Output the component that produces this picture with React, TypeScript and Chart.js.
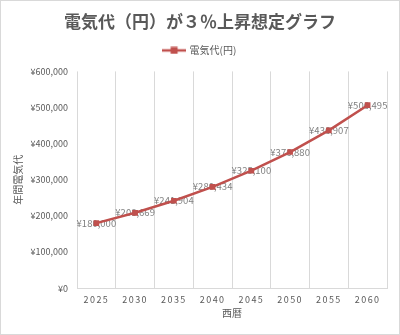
import React, { useEffect, useRef } from "react";
import { Chart, registerables } from "chart.js";

Chart.register(...registerables);

const years = ["2025", "2030", "2035", "2040", "2045", "2050", "2055", "2060"];
const costs = [180000, 208669, 241904, 280434, 325100, 376880, 436907, 506495];
const yMin = 0;
const yMax = 600000;
const yStep = 100000;
const seriesName = "電気代(円)";
const titleText = "電気代（円）が３％上昇想定グラフ";
const yTitle = "年間電気代";
const xTitle = "西暦";

const RED = "#c0504d";
const GRID = "#d9d9d9";
const TEXT = "#595959";
const LABEL = "#7f7f7f";
const FONT = '"Noto Sans CJK JP", "Noto Sans", sans-serif';

const yen = (v: number) => "¥" + Math.round(v).toLocaleString("en-US");

const valueLabels = {
  id: "valueLabels",
  beforeDatasetsDraw(chart: any) {
    const ctx = chart.ctx;
    const meta = chart.getDatasetMeta(0);
    ctx.save();
    ctx.font = `9.5px ${FONT}`;
    ctx.fillStyle = LABEL;
    ctx.textAlign = "center";
    ctx.textBaseline = "middle";
    meta.data.forEach((pt: any, i: number) => {
      ctx.fillText(yen(costs[i]), pt.x, pt.y);
    });
    ctx.restore();
  },
};

const xSpacing = {
  id: "xSpacing",
  afterUpdate(chart: any) {
    const sc = chart.scales.x;
    if (sc && !sc.__patched) {
      const orig = sc.drawLabels.bind(sc);
      sc.drawLabels = (area: any) => {
        const ctx = chart.ctx;
        const prev = ctx.letterSpacing;
        ctx.letterSpacing = "1.5px";
        orig(area);
        ctx.letterSpacing = prev;
      };
      sc.__patched = true;
    }
  },
};

const legendGap = {
  id: "legendGap",
  beforeUpdate(chart: any) {
    const lg = chart.legend;
    if (lg && !lg.__patched) {
      const orig = lg.fit.bind(lg);
      lg.fit = function () {
        orig();
        lg.height += 6;
      };
      lg.__patched = true;
    }
  },
};

function legendIcon(): HTMLCanvasElement {
  const c = document.createElement("canvas");
  c.width = 24;
  c.height = 8;
  const g = c.getContext("2d")!;
  g.strokeStyle = RED;
  g.lineWidth = 2.5;
  g.beginPath();
  g.moveTo(0, 4);
  g.lineTo(24, 4);
  g.stroke();
  g.fillStyle = RED;
  g.fillRect(8.5, 0.5, 7, 7);
  return c;
}

export default function App() {
  const ref = useRef<HTMLCanvasElement | null>(null);

  useEffect(() => {
    document.body.style.margin = "0";
    if (!ref.current) return;
    Chart.defaults.font.family = FONT;
    const icon = legendIcon();
    const chart = new Chart(ref.current, {
      type: "line",
      data: {
        labels: years,
        datasets: [
          {
            label: seriesName,
            data: costs,
            borderColor: RED,
            backgroundColor: RED,
            borderWidth: 2.5,
            pointStyle: "rect",
            pointRadius: 4,
            pointBackgroundColor: RED,
            pointBorderColor: RED,
            pointBorderWidth: 0,
            tension: 0,
          },
        ],
      },
      options: {
        responsive: false,
        animation: false,
        layout: { padding: { top: 0, right: 12, bottom: 15, left: 12 } },
        plugins: {
          tooltip: { enabled: false },
          title: {
            display: true,
            text: titleText,
            color: TEXT,
            font: { size: 17, weight: "bold", family: FONT },
            padding: { top: 10, bottom: 4 },
          },
          legend: {
            display: true,
            position: "top",
            labels: {
              color: TEXT,
              font: { size: 10, family: FONT },
              usePointStyle: true,
              pointStyleWidth: 21,
              generateLabels: () => [
                {
                  text: seriesName,
                  pointStyle: icon as any,
                  fillStyle: RED,
                  strokeStyle: RED,
                  lineWidth: 0,
                  fontColor: TEXT,
                  hidden: false,
                  datasetIndex: 0,
                } as any,
              ],
            },
          },
        },
        scales: {
          x: {
            offset: true,
            grid: { display: true, offset: true, color: GRID, lineWidth: 1, drawTicks: false },
            border: { display: true, color: GRID },
            ticks: { color: TEXT, font: { size: 9, family: FONT }, padding: 6, maxRotation: 0 },
            title: {
              display: true,
              text: xTitle,
              color: TEXT,
              font: { size: 10, family: FONT },
              padding: { top: -4, bottom: 0 },
            },
          },
          y: {
            min: yMin,
            max: yMax,
            grid: { display: false, drawTicks: false },
            border: { display: false },
            ticks: {
              stepSize: yStep,
              color: TEXT,
              font: { size: 9, family: FONT },
              padding: 9,
              callback: (v: any) => yen(Number(v)),
            },
            title: {
              display: true,
              text: yTitle,
              color: TEXT,
              font: { size: 10, family: FONT },
              padding: { top: -1, bottom: 0 },
            },
            afterFit: (s: any) => {
              s.width = 64;
            },
          },
        },
      },
      plugins: [valueLabels, xSpacing, legendGap],
    });
    return () => chart.destroy();
  }, []);

  return (
    <div
      style={{
        width: 400,
        height: 335,
        boxSizing: "border-box",
        border: `1px solid ${GRID}`,
        background: "#fff",
      }}
    >
      <canvas ref={ref} width={398} height={333} style={{ display: "block" }} />
    </div>
  );
}
